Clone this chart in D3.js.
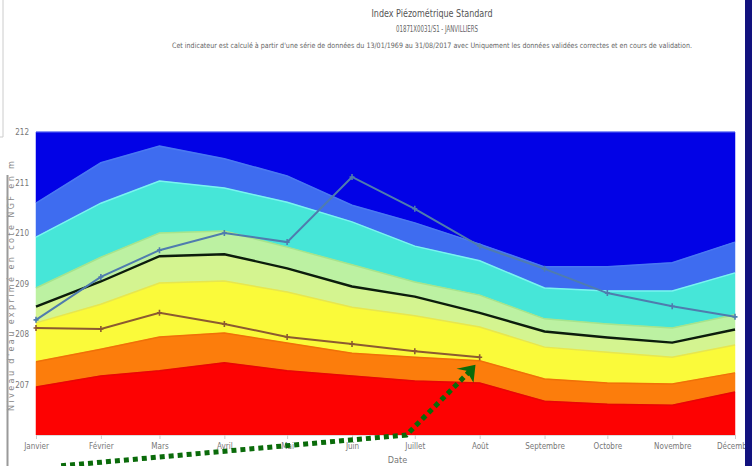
<!DOCTYPE html>
<html><head><meta charset="utf-8">
<script src="https://cdn.jsdelivr.net/npm/d3@7/dist/d3.min.js"></script>
<style>body{margin:0;background:#fff;overflow:hidden} svg{display:block}</style>
</head><body>
<svg id="c" width="752" height="466"></svg>
<script>
// ---- data ----
const months = ["Janvier","Février","Mars","Avril","Mai","Juin","Juillet","Août","Septembre","Octobre","Novembre","Décembre"];
const monthIdx = [0,1,2,3,4,5,6,7,8,9,10,11];
// class thresholds (m NGF), from top to bottom
const tresHaut   = [210.59,211.39,211.72,211.47,211.13,210.55,210.20,209.78,209.33,209.33,209.41,209.82];
const haut       = [209.92,210.59,211.03,210.89,210.61,210.22,209.74,209.45,208.91,208.85,208.85,209.21];
const modHaut    = [208.91,209.52,210.00,210.04,209.72,209.37,209.03,208.77,208.30,208.20,208.12,208.38];
const mediane    = [208.54,209.04,209.54,209.58,209.30,208.94,208.74,208.42,208.05,207.93,207.83,208.09];
const normaleBas = [208.22,208.59,209.01,209.05,208.83,208.53,208.36,208.14,207.74,207.64,207.54,207.78];
const modBas     = [207.45,207.70,207.94,208.02,207.82,207.62,207.54,207.47,207.11,207.03,207.01,207.23];
const bas        = [206.95,207.17,207.27,207.43,207.27,207.17,207.07,207.03,206.67,206.61,206.59,206.85];
// observed series
const serie2016 = [208.28,209.13,209.66,210.00,209.82,211.11,210.48,209.74,209.29,208.81,208.55,208.34];
const serie2017 = [208.12,208.10,208.42,208.20,207.94,207.80,207.66,207.54];
const yTicks = [207,208,209,210,211,212];
const yMin = 206, yMax = 212;

const titre = "Index Piézométrique Standard";
const sousTitre = "01871X0031/S1 - JANVILLIERS";
const description = "Cet indicateur est calculé à partir d'une série de données du 13/01/1969 au 31/08/2017 avec Uniquement les données validées correctes et en cours de validation.";
const yLabel = "Niveau d'eau exprimé en cote NGF en m";
const xLabel = "Date";

// ---- chart ----
(function () {
const svg = d3.select("#c");
const font = "'Liberation Sans Narrow','DejaVu Sans Condensed','Liberation Sans',sans-serif";
const L = 36, R = 735, T = 132, B = 435;
const dates = monthIdx.map(m => new Date(2017, m, 1));
const x = d3.scaleTime().domain([dates[0], dates[11]]).range([L, R]);
const y = d3.scaleLinear().domain([yMin, yMax]).range([B, T]);

const topVals = monthIdx.map(() => yMax), botVals = monthIdx.map(() => yMin);
const bands = [
  {hi: topVals, lo: tresHaut, fill: "#0202e6", edge: null},
  {hi: tresHaut, lo: haut, fill: "#3e6cf0", edge: "#4a78f2"},
  {hi: haut, lo: modHaut, fill: "#46e6d8", edge: "#7af4f0"},
  {hi: modHaut, lo: mediane, fill: "#bcf1a2", edge: "#a6e48c"},
  {hi: mediane, lo: normaleBas, fill: "#d4f490", edge: null},
  {hi: normaleBas, lo: modBas, fill: "#fafa3a", edge: "#e6e650"},
  {hi: modBas, lo: bas, fill: "#fc7d0c", edge: "#f07008"},
  {hi: bas, lo: botVals, fill: "#fd0202", edge: "#e80606"}
];
const area = d3.area().x((d) => x(d.date)).y0(d => y(d.lo)).y1(d => y(d.hi));
const g = svg.append("g");
bands.forEach(b => {
  const pts = dates.map((d, i) => ({date: d, hi: b.hi[i], lo: b.lo[i]}));
  g.append("path").datum(pts).attr("d", area).attr("fill", b.fill).attr("stroke", b.fill).attr("stroke-width", 0.5);
});
const line = d3.line().x(d => x(d.date)).y(d => y(d.v));
bands.forEach(b => {
  if (!b.edge) return;
  const pts = dates.map((d, i) => ({date: d, v: b.hi[i]}));
  g.append("path").datum(pts).attr("d", line).attr("fill", "none").attr("stroke", b.edge).attr("stroke-width", 1.5);
});
g.append("line").attr("x1", L).attr("x2", R).attr("y1", T).attr("y2", T).attr("stroke", "#5a6cf4").attr("stroke-width", 1);

// median
g.append("path").datum(dates.map((d, i) => ({date: d, v: mediane[i]})))
  .attr("d", line).attr("fill", "none").attr("stroke", "#0c1c0c").attr("stroke-width", 2.4);

function serie(vals, color) {
  const pts = vals.map((v, i) => ({date: dates[i], v}));
  g.append("path").datum(pts).attr("d", line).attr("fill", "none").attr("stroke", color).attr("stroke-width", 2);
  g.selectAll(null).data(pts).join("path")
    .attr("d", d => `M${x(d.date)-2.5},${y(d.v)}h5M${x(d.date)},${y(d.v)-3}v6`)
    .attr("stroke", color).attr("stroke-width", 1.6);
}
serie(serie2016, "#4f7cae");
serie(serie2017, "#8c5a30");

// axes
const yAxis = svg.append("g").attr("transform", `translate(${L-4},0)`)
  .call(d3.axisLeft(y).tickValues(yTicks).tickSize(0).tickFormat(d3.format("d")));
yAxis.select(".domain").remove();
yAxis.selectAll("text").attr("font-family", font).attr("font-size", 8).attr("fill", "#777");

const xAxis = svg.append("g").attr("transform", `translate(0,${B})`)
  .call(d3.axisBottom(x).tickValues(dates).tickSize(4).tickFormat((d, i) => months[i]));
xAxis.select(".domain").attr("stroke", "#ddd");
xAxis.selectAll(".tick line").attr("stroke", "#ccc");
xAxis.selectAll("text").attr("font-family", font).attr("font-size", 8).attr("fill", "#777").attr("dy", "0.9em");

svg.append("text").attr("x", (L + R) / 2 + 12).attr("y", 463).attr("text-anchor", "middle")
  .attr("font-family", font).attr("font-size", 9).attr("fill", "#777").text(xLabel);
svg.append("text").attr("transform", "translate(14,286) rotate(-90)").attr("text-anchor", "middle")
  .attr("font-family", font).attr("font-size", 9).attr("fill", "#888")
  .attr("textLength", 250).attr("lengthAdjust", "spacing").text(yLabel);

// titles
svg.append("text").attr("x", 432).attr("y", 17).attr("text-anchor", "middle")
  .attr("font-family", font).attr("font-size", 11).attr("fill", "#555")
  .attr("textLength", 121).attr("lengthAdjust", "spacingAndGlyphs").text(titre);
svg.append("text").attr("x", 437).attr("y", 32).attr("text-anchor", "middle")
  .attr("font-family", font).attr("font-size", 8.5).attr("fill", "#666")
  .attr("textLength", 82).attr("lengthAdjust", "spacingAndGlyphs").text(sousTitre);
svg.append("text").attr("x", 432).attr("y", 48).attr("text-anchor", "middle")
  .attr("font-family", font).attr("font-size", 7.4).attr("fill", "#666")
  .attr("textLength", 520).attr("lengthAdjust", "spacingAndGlyphs").text(description);

// frame decorations
svg.append("path").attr("d", "M3,0V137H0").attr("fill", "none").attr("stroke", "#ccc").attr("stroke-width", 1);
svg.append("line").attr("x1", 7.5).attr("x2", 7.5).attr("y1", 175).attr("y2", 466).attr("stroke", "#9a9a9a").attr("stroke-width", 2);
svg.append("rect").attr("x", 745).attr("y", 0).attr("width", 7).attr("height", 466).attr("fill", "#12127e");

// annotation arrow (dotted, dark green)
const arrowPts = [{date: new Date(2017, 0, 13), v: 205.39}, {date: new Date(2017, 5, 27), v: 206.0}, {date: new Date(2017, 6, 27), v: 207.25}];
svg.append("path").datum(arrowPts).attr("d", line).attr("fill", "none")
  .attr("stroke", "#0a6b0a").attr("stroke-width", 5).attr("stroke-dasharray", "5,4");
const tip = {x: x(new Date(2017, 6, 30)), y: y(207.39)};
svg.append("path").attr("d", `M${tip.x},${tip.y}L${tip.x-19},${tip.y+4}L${tip.x-9},${tip.y+6}L${tip.x-2},${tip.y+18}Z`).attr("fill", "#0a6b0a");
})();
</script>
</body></html>
